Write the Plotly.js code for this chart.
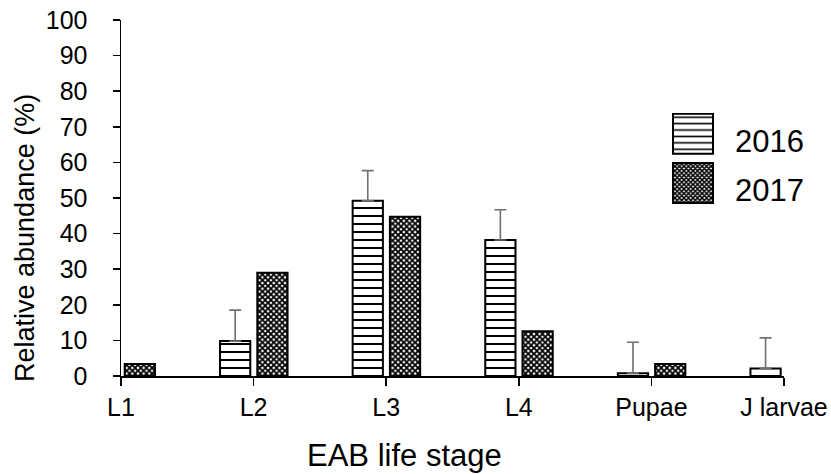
<!DOCTYPE html>
<html>
<head>
<meta charset="utf-8">
<script src="https://cdn.plot.ly/plotly-3.0.1.min.js"></script>
<style>html,body{margin:0;padding:0;background:#fff;}#chart{width:831px;height:474px;}</style>
</head>
<body>
<div id="chart"></div>
<script>
var stages = ["L1", "L2", "L3", "L4", "Pupae", "J larvae"];
var abundance2016 = [0, 9.8, 49.2, 38.2, 0.8, 2.1];
var error2016 = [0, 8.7, 8.5, 8.5, 8.7, 8.6];
var abundance2017 = [3.4, 29.0, 44.7, 12.6, 3.4, 0];
var yTicks = [0, 10, 20, 30, 40, 50, 60, 70, 80, 90, 100];
var xTitle = "EAB life stage";
var yTitle = "Relative abundance (%)";

var FONT = "Liberation Sans, Arial, sans-serif";

var trace2016 = {
  type: "bar",
  name: "2016",
  legendgroup: "a",
  x: stages,
  y: abundance2016,
  width: 0.228,
  offset: -0.253,
  marker: {
    color: "#ffffff",
    line: {color: "#000000", width: 2},
    pattern: {shape: "-", size: 8, solidity: 0.25, fgcolor: "#000000", bgcolor: "#ffffff", fillmode: "replace"}
  },
  error_y: {type: "data", symmetric: false, array: error2016, arrayminus: error2016.map(function(){return 0;}),
            color: "#707070", thickness: 1.6, width: 6}
};
var trace2017 = {
  type: "bar",
  name: "2017",
  legendgroup: "b",
  x: stages,
  y: abundance2017,
  width: 0.228,
  offset: 0.028,
  marker: {
    color: "#000000",
    line: {color: "#000000", width: 2},
    pattern: {shape: "x", size: 4, solidity: 0.7, fgcolor: "#000000", bgcolor: "#ffffff", fillmode: "replace"}
  }
};

var layout = {
  width: 831, height: 474,
  margin: {l: 121, r: 47, t: 20, b: 98},
  paper_bgcolor: "#ffffff", plot_bgcolor: "#ffffff",
  font: {family: FONT, color: "#000000", size: 25},
  showlegend: true,
  barmode: "overlay",
  legend: {
    x: 0.7994, y: 0.7388, xanchor: "left", yanchor: "top",
    font: {family: FONT, size: 31, color: "#000000"},
    itemwidth: 74, tracegroupgap: 6, traceorder: "grouped",
    bgcolor: "rgba(0,0,0,0)", borderwidth: 0
  },
  xaxis: {
    type: "category", categoryorder: "array", categoryarray: stages,
    range: [0, 5], showgrid: false, zeroline: false,
    showline: true, linecolor: "#000000", linewidth: 1.5,
    ticks: "outside", ticklen: 8, tickwidth: 1.5, tickcolor: "#000000",
    tickfont: {family: FONT, size: 25, color: "#000000"},
    fixedrange: true
  },
  yaxis: {
    range: [0, 100], tickmode: "array", tickvals: yTicks, ticktext: yTicks.map(String),
    showgrid: false, zeroline: false,
    showline: true, linecolor: "#000000", linewidth: 1.5,
    ticks: "outside", ticklen: 7, tickwidth: 1.5, tickcolor: "#000000",
    ticklabelstandoff: 20,
    tickfont: {family: FONT, size: 25, color: "#000000"},
    fixedrange: true
  },
  annotations: [
    {text: xTitle, xref: "paper", yref: "paper", x: (404 - 121) / 663, y: -(455 - 376) / 356,
     xanchor: "center", yanchor: "middle", showarrow: false,
     font: {family: FONT, size: 31, color: "#000000"}},
    {text: yTitle, xref: "paper", yref: "paper", x: (25 - 121) / 663, y: (376 - 238) / 356,
     xanchor: "center", yanchor: "middle", showarrow: false, textangle: -90,
     font: {family: FONT, size: 27, color: "#000000"}}
  ]
};

Plotly.newPlot("chart", [trace2016, trace2017], layout, {staticPlot: true, displayModeBar: false}).then(function(gd){
  var paths = gd.querySelectorAll(".legend .legendpoints path");
  paths.forEach(function(p){
    if (p.getAttribute("d") && p.getAttribute("d").indexOf("M6,6") === 0) {
      p.setAttribute("d", "M20,14H-20V-26H20Z");
    }
  });
});
</script>
</body>
</html>
